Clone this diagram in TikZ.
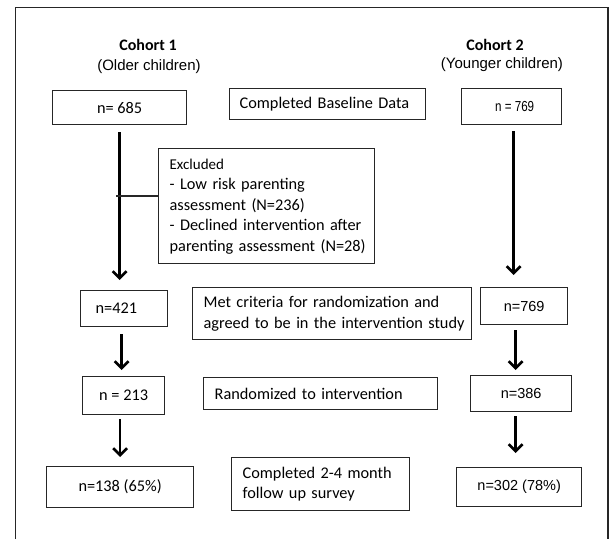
\documentclass[tikz,border=0pt]{standalone}
\usepackage{fontspec}
\usepackage{graphicx}
\setmainfont{Carlito}
\newfontfamily\arialf{Liberation Sans}
\usetikzlibrary{arrows.meta,calc}
\newcommand{\flines}[1]{\begin{tabular}{@{}l@{}}#1\end{tabular}}
\begin{document}
\begin{tikzpicture}[x=1pt,y=-1pt,
  frm/.style={line width=1.3pt, draw=black!85},
  box/.style={draw=black!85, line width=1.3pt, inner sep=0pt, anchor=north west,
    font=\fontsize{16.3}{20.5}\selectfont},
  cbox/.style={box, align=center},
  lbox/.style={box, align=left, inner xsep=11pt},
  afont/.style={font=\arialf\fontsize{14.5}{18}\selectfont},
  arr/.style={line width=2.6pt, draw=black, -{Straight Barb[length=7pt,width=14pt]}},
  conn/.style={line width=1.2pt, draw=black!85},
  head/.style={font=\bfseries\fontsize{16}{20}\selectfont},
  sub/.style={font=\arialf\fontsize{15}{18}\selectfont}
]
\useasboundingbox (0,0) rectangle (612,539);
\draw[frm] (15.5,539) -- (15.5,7.5) -- (608,7.5) -- (608,539);

% headings
\node[head] (c1) at (148,45) {Cohort 1};
\node[sub] (c1s) at (149,67) {(Older children)};
\node[head] (c2) at (495,45) {Cohort 2};
\node[sub] (c2s) at (502,65) {(Younger children)};

% row 1
\node[cbox, minimum width=134pt, minimum height=34pt] (b685) at (52,90) {n= 685};
\node[lbox, inner xsep=10pt, text width=176pt, minimum height=31pt] (bBase) at (229,88) {Completed Baseline Data};
\node[cbox, afont, minimum width=100pt, minimum height=36pt] (b769a) at (461,88) {\hspace*{6pt}\scalebox{0.8}[1]{n = 769}};

% excluded
\node[lbox, text width=194pt, minimum height=115pt] (bExcl) at (158,148)
  {\flines{{\fontsize{15}{20.5}\selectfont Excluded}\\- Low risk parenting\\assessment (N=236)\\- Declined intervention after\\parenting assessment (N=28)}};

% row 2
\node[lbox, inner xsep=15pt, text width=57pt, minimum height=36pt] (b421) at (80,290) {n=421};
\node[lbox, text width=257pt, minimum height=52pt] (bMet) at (192,287)
  {\flines{Met criteria for randomization and\\agreed to be in the intervention study}};
\node[cbox, afont, minimum width=87pt, minimum height=37pt] (b769b) at (480,287) {n=769};

% row 3
\node[cbox, minimum width=82pt, minimum height=38pt] (b213) at (82,376) {n = 213};
\node[lbox, text width=212pt, minimum height=32pt] (bRand) at (203,377) {Randomized to intervention};
\node[cbox, afont, minimum width=101pt, minimum height=36pt] (b386) at (470,375) {n=386};

% row 4
\node[cbox, minimum width=147pt, minimum height=41pt] (b138) at (46,466) {n=138 (65\%)};
\node[lbox, text width=156pt, minimum height=53pt] (bComp) at (231,457)
  {\flines{Completed 2-4 month\\follow up survey}};
\node[cbox, afont, minimum width=125pt, minimum height=39pt] (b302) at (456,467) {n=302 (78\%)};

% arrows left column
\draw[arr, shorten <=7pt, shorten >=10pt] (b685.south) -- (b685.south |- b421.north);
\coordinate (tee) at (116,196);
\draw[conn] (tee) -- (tee -| bExcl.west);
\draw[arr, shorten <=7pt, shorten >=6pt] ($(b421.south)+(-2.5,0)$) -- ($(b421.south |- b213.north)+(-2.5,0)$);
\draw[arr, shorten <=4pt, shorten >=9pt] (b213.south -| b138.north) -- (b138.north);

% arrows right column
\draw[arr, shorten <=6pt, shorten >=12pt] ($(b769a.south)+(2,0)$) -- ($(b769a.south |- b769b.north)+(2,0)$);
\draw[arr, shorten <=5pt, shorten >=5pt] ($(b769b.south)+(-8.5,0)$) -- ($(b769b.south |- b386.north)+(-8.5,0)$);
\draw[arr, shorten <=4pt, shorten >=14pt] ($(b386.south)+(-5.5,0)$) -- ($(b386.south |- b302.north)+(-5.5,0)$);
\end{tikzpicture}
\end{document}
